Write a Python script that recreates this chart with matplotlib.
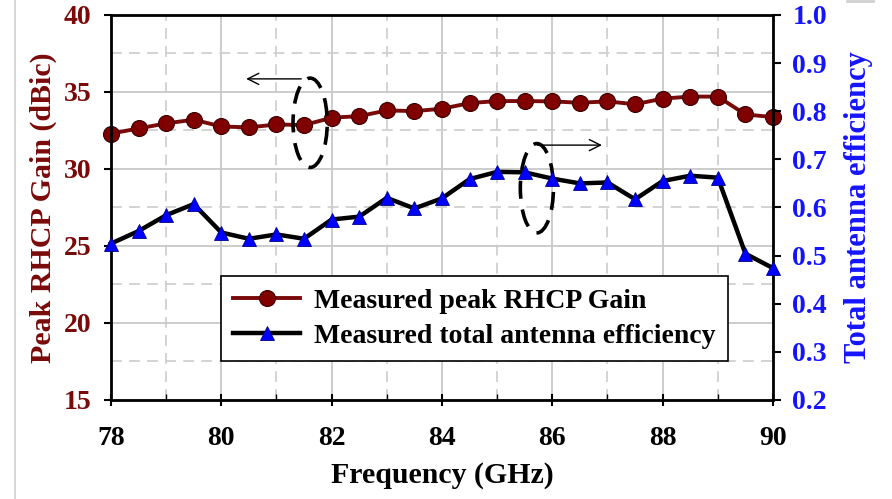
import numpy as np
import matplotlib
matplotlib.use("Agg")
import matplotlib.pyplot as plt
from matplotlib.patches import Ellipse
from matplotlib.lines import Line2D

# frequences de mesure (GHz)
freq = [78, 78.5, 79, 79.5, 80, 80.5, 81, 81.5, 82, 82.5, 83, 83.5, 84,
        84.5, 85, 85.5, 86, 86.5, 87, 87.5, 88, 88.5, 89, 89.5, 90]
# gain RHCP crete mesure (dBic)
gain = [32.3, 32.63, 32.96, 33.2, 32.76, 32.7, 32.89, 32.85, 33.33, 33.43,
        33.8, 33.76, 33.91, 34.28, 34.41, 34.41, 34.39, 34.3, 34.39, 34.2,
        34.57, 34.7, 34.7, 33.54, 33.37]
# efficacite totale de l'antenne
eff = [0.525, 0.551, 0.584, 0.607, 0.548, 0.535, 0.544, 0.535, 0.575, 0.581,
       0.62, 0.598, 0.619, 0.659, 0.674, 0.673, 0.66, 0.65, 0.652, 0.617,
       0.655, 0.666, 0.662, 0.504, 0.474]

rouge = "#7a0a0a"
bleu = "#1414ff"
police = "Liberation Serif"
plt.rcParams["font.family"] = police
plt.rcParams["font.weight"] = "bold"

fig = plt.figure(figsize=(8.92, 4.99), dpi=100)
ax1 = fig.add_axes([0.1244, 0.1984, 0.7422, 0.7716])
ax2 = ax1.twinx()

# grille : traits pleins aux graduations majeures, pointilles aux mineures
ax1.set_xlim(78, 90)
ax1.set_ylim(15, 40)
ax1.set_xticks(np.arange(78, 91, 2))
ax1.set_xticks(np.arange(79, 90, 2), minor=True)
ax1.set_yticks(np.arange(15, 41, 5))
ax1.set_yticks(np.arange(17.5, 40, 5), minor=True)
ax1.grid(which="major", color="#c8c8c8", linewidth=1.3)
ax1.grid(which="minor", color="#d0d0d0", linewidth=1.3, linestyle=(0, (6, 4)))
ax1.set_axisbelow(True)

l1, = ax1.plot(freq, gain, color=rouge, linewidth=2.8, marker="o",
               markersize=11.5, markerfacecolor="#800000",
               markeredgecolor="#3a0000", markeredgewidth=0.8, clip_on=False,
               zorder=4)
l2, = ax2.plot(freq, eff, color="black", linewidth=3.2, marker="^",
               markersize=9.5, markerfacecolor="#0000ff",
               markeredgecolor="#00008a", markeredgewidth=0.6, clip_on=False,
               zorder=4)
ax2.set_ylim(0.2, 1.0)
ax2.set_yticks(np.arange(0.2, 1.01, 0.1))
ax2.set_yticklabels([f"{v:.1f}" for v in np.arange(0.2, 1.01, 0.1)])

for sp in ax2.spines.values():
    sp.set_linewidth(2)
    sp.set_color("black")

ax1.tick_params(axis="y", which="major", direction="out", length=5, width=1.5,
                labelsize=20, labelcolor=rouge, pad=9)
ax1.tick_params(axis="y", which="minor", length=0)
ax1.tick_params(axis="x", which="major", direction="inout", length=8,
                width=1.5, labelsize=20, pad=15)
ax1.tick_params(axis="x", which="minor", direction="in", length=4, width=1)
ax2.tick_params(axis="y", direction="out", length=6, width=1.5, labelsize=20,
                labelcolor=bleu, pad=8)

ax1.set_xlabel("Frequency (GHz)", fontsize=21.5, fontweight="bold",
               labelpad=8)
ax1.set_ylabel("Peak RHCP Gain (dBic)", fontsize=21.5, fontweight="bold",
               color=rouge, labelpad=5)
ax2.set_ylabel("Total antenna efficiency", fontsize=22, fontweight="bold",
               color=bleu, labelpad=12)

# ellipses et fleches indiquant l'axe de chaque courbe
ax1.add_patch(Ellipse((81.61, 33.0), 0.62, 5.8, fill=False, color="black",
                      linewidth=2.6, linestyle=(0, (5, 3)), zorder=5))
ax1.annotate("", xy=(80.4, 35.85), xytext=(81.5, 35.85),
             arrowprops=dict(arrowstyle="->", color="black", lw=1,
                             mutation_scale=20), zorder=5)
ax1.add_patch(Ellipse((85.72, 28.75), 0.6, 5.8, fill=False, color="black",
                      linewidth=2.6, linestyle=(0, (5, 3)), zorder=5))
ax1.annotate("", xy=(86.95, 31.55), xytext=(85.68, 31.55),
             arrowprops=dict(arrowstyle="->", color="black", lw=1,
                             mutation_scale=20), zorder=5)

leg = ax2.legend([l1, l2], ["Measured peak RHCP Gain",
                            "Measured total antenna efficiency"],
                 loc="lower left", bbox_to_anchor=(0.166, 0.1),
                 borderaxespad=0, fancybox=False, framealpha=1,
                 edgecolor="black",
                 prop={"family": police, "weight": "bold", "size": 20},
                 handlelength=2.4, handletextpad=0.5, borderpad=0.45,
                 labelspacing=0.35)
leg.get_frame().set_linewidth(1.2)

# bordure grise a gauche de la figure
fig.add_artist(Line2D([15 / 892, 15 / 892], [0, 1], color="#d0d0d0",
                      linewidth=1.2, transform=fig.transFigure))
fig.add_artist(Line2D([847 / 892, 873 / 892], [0.998, 0.998], color="#d0d0d0",
                      linewidth=2, transform=fig.transFigure))

fig.savefig("out.png", dpi=100)
